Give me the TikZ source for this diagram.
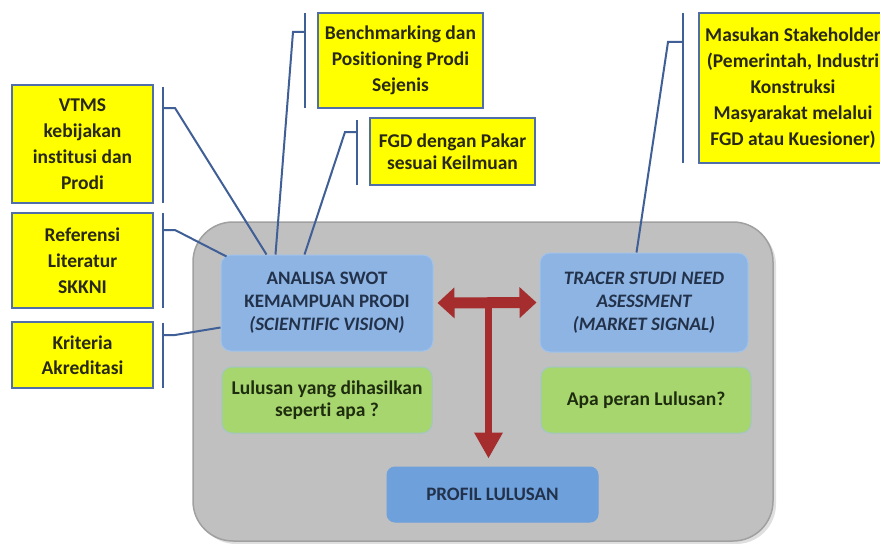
\documentclass[tikz,border=0pt]{standalone}
\usepackage{fontspec}
\setmainfont{Carlito}[Ligatures=NoCommon]
\usetikzlibrary{arrows.meta,calc,shadows}
\definecolor{ybox}{RGB}{255,255,0}
\definecolor{yborder}{RGB}{79,110,170}
\definecolor{bline}{RGB}{63,95,150}
\definecolor{gfill}{RGB}{192,192,192}
\definecolor{gdraw}{RGB}{160,160,160}
\definecolor{lblue}{RGB}{142,180,227}
\definecolor{lbluedraw}{RGB}{160,195,235}
\definecolor{lgreen}{RGB}{168,214,110}
\definecolor{lgreendraw}{RGB}{160,200,190}
\definecolor{pblue}{RGB}{110,160,220}
\definecolor{redarr}{RGB}{165,45,45}
\definecolor{ytext}{RGB}{40,40,20}
\definecolor{btext}{RGB}{35,50,75}
\definecolor{gtext}{RGB}{30,45,15}
\begin{document}
\begin{tikzpicture}[x=1pt,y=-1pt,
  ybx/.style={draw=yborder, line width=2pt, fill=ybox, text=ytext, align=center,
    inner sep=0pt, font=\bfseries\fontsize{19.5}{26}\selectfont},
  bbx/.style={draw=lbluedraw, line width=1pt, fill=lblue, text=btext, align=center,
    rounded corners=10pt, inner sep=0pt, font=\bfseries\fontsize{19}{23}\selectfont},
  gbx/.style={draw=lgreendraw, line width=1pt, fill=lgreen, text=gtext, align=center,
    rounded corners=10pt, inner sep=0pt, font=\bfseries\fontsize{19.5}{22}\selectfont},
  frame/.style={draw=gdraw, line width=1.5pt, fill=gfill, rounded corners=40pt,
    drop shadow={shadow xshift=3pt, shadow yshift=-3pt, opacity=0.25}},
  brk/.style={draw=bline, line width=2pt}
]
\useasboundingbox (0,0) rectangle (880,543);
\clip (0,0) rectangle (880,543);
\fill[white] (0,0) rectangle (880,543);

% frame
\node[frame, minimum width=580pt, minimum height=319pt] (frame) at (483,381.5) {};

% inner boxes
\node[bbx, minimum width=212pt, minimum height=96pt] (analisa) at (327,303)
  {ANALISA SWOT\\KEMAMPUAN PRODI\\\itshape(SCIENTIFIC VISION)};
\node[gbx, minimum width=210pt, minimum height=66pt] (lulusan) at (327,400)
  {Lulusan yang dihasilkan\\seperti apa ?};
\node[bbx, minimum width=208pt, minimum height=99pt, font=\bfseries\itshape\fontsize{19}{23}\selectfont] (tracer) at (644,302.5)
  {TRACER STUDI NEED\\ASESSMENT\\(MARKET SIGNAL)};
\node[gbx, minimum width=210pt, minimum height=66pt] (apa) at (646,400)
  {Apa peran Lulusan?};
\node[bbx, fill=pblue, draw=pblue, rounded corners=8pt, minimum width=211pt, minimum height=55pt] (profil) at (492.5,494.5)
  {PROFIL LULUSAN};

% yellow boxes
\node[ybx, minimum width=141pt, minimum height=118pt] (vtms) at (82.5,144)
  {VTMS\\kebijakan\\institusi dan\\Prodi};
\node[ybx, minimum width=141pt, minimum height=95pt] (referensi) at (82.5,260.5)
  {Referensi\\Literatur\\SKKNI};
\node[ybx, minimum width=141pt, minimum height=66pt, font=\bfseries\fontsize{19.5}{25}\selectfont] (kriteria) at (82.5,355)
  {Kriteria\\Akreditasi};
\node[ybx, minimum width=165pt, minimum height=95pt] (bench) at (400.5,60.5)
  {Benchmarking dan\\Positioning Prodi\\Sejenis};
\node[ybx, minimum width=165pt, minimum height=67pt, font=\bfseries\fontsize{19.5}{22}\selectfont] (fgd) at (452.5,151.5)
  {FGD dengan Pakar\\sesuai Keilmuan};
\node[ybx, minimum width=188pt, minimum height=150pt] (masukan) at (793,88)
  {Masukan Stakeholder\\(Pemerintah, Industri\\Konstruksi\\Masyarakat melalui\\FGD atau Kuesioner)};

% brackets
\coordinate (b1t) at (163,87);  \coordinate (b1b) at (163,203);
\coordinate (b1m) at (163,108); \coordinate (b1k) at (175,108);
\coordinate (b2t) at (163,213); \coordinate (b2b) at (163,308);
\coordinate (b2m) at (163,230); \coordinate (b2k) at (175,230);
\coordinate (b3t) at (163,323); \coordinate (b3b) at (163,388);
\coordinate (b3m) at (163,335); \coordinate (b3k) at (175,335);
\coordinate (b4t) at (305,13);  \coordinate (b4b) at (305,108);
\coordinate (b4m) at (305,32);  \coordinate (b4k) at (293,32);
\coordinate (b5t) at (357,120); \coordinate (b5b) at (357,185);
\coordinate (b5m) at (357,132); \coordinate (b5k) at (345,132);
\coordinate (b6t) at (683,13);  \coordinate (b6b) at (683,163);
\coordinate (b6m) at (683,42);  \coordinate (b6k) at (668,42);

\draw[brk] (b1t) -- (b1b);
\draw[brk] (b1m) -- (b1k) -- ($(analisa.north west)+(46,0)$);
\draw[brk] (b2t) -- (b2b);
\draw[brk] (b2m) -- (b2k) -- ($(analisa.north west)+(6,2)$);
\draw[brk] (b3t) -- (b3b);
\draw[brk] (b3m) -- (b3k) -- ($(analisa.south west)+(0,-24)$);
\draw[brk] (b4t) -- (b4b);
\draw[brk] (b4m) -- (b4k) -- ($(analisa.north west)+(55,0)$);
\draw[brk] (b5t) -- (b5b);
\draw[brk] (b5m) -- (b5k) -- ($(analisa.north west)+(84,0)$);
\draw[brk] (b6t) -- (b6b);
\draw[brk] (b6m) -- (b6k) -- ($(tracer.north west)+(97,0)$);

% red arrows
\coordinate (vstart) at (488.5,303);
\coordinate (vend) at (profil.north -| vstart);
\draw[redarr, line width=6.5pt, -{Triangle[width=27pt,length=26pt]}, shorten >=8pt] (vstart) -- (vend);
\draw[redarr, line width=11pt, {Triangle[width=30pt,length=17pt]}-{Triangle[width=30pt,length=17pt]},
  shorten <=4pt, shorten >=3pt] (analisa.east) -- (tracer.west);
\end{tikzpicture}
\end{document}
